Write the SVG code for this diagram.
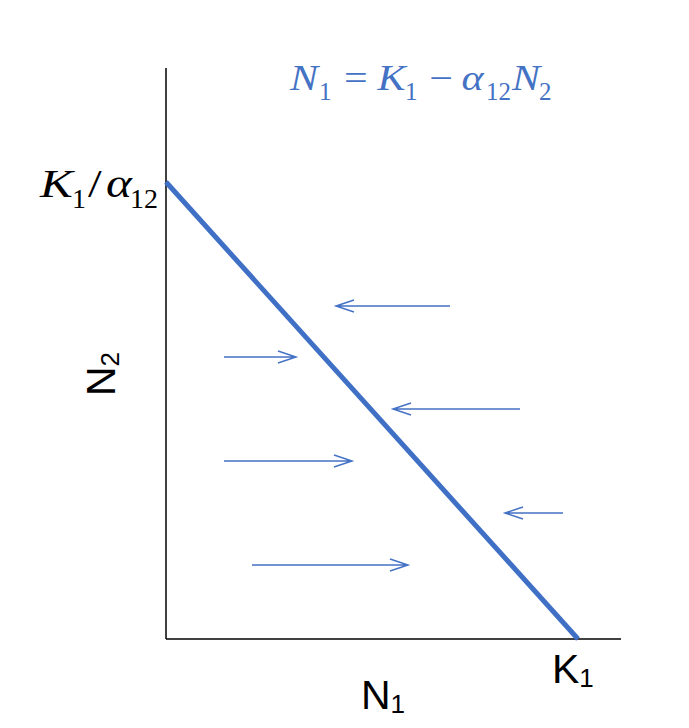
<svg xmlns="http://www.w3.org/2000/svg" width="689" height="728" viewBox="0 0 689 728">
<style>
.axis{stroke:#000;stroke-width:1.5;fill:none}
.iso{stroke:#3F70C6;stroke-width:5;fill:none}
.arr{stroke:#4472C4;stroke-width:1.5;fill:none}
.sans{font-family:"Liberation Sans",Arial,sans-serif;fill:#000;font-size:41px}
.sub{font-size:26px}
.math{font-family:"Liberation Serif","Times New Roman",serif;font-style:italic}
.up{font-style:normal}
</style>
<rect width="689" height="728" fill="#fff"/>
<g id="axes">
<line class="axis" x1="166" y1="68" x2="166" y2="639"/>
<line class="axis" x1="166" y1="639" x2="621" y2="639"/>
</g>
<g id="isocline">
<line class="iso" x1="166" y1="182" x2="578" y2="639"/>
</g>
<g id="connectors">
<path class="arr" d="M450 306H336M354 300L336 306L354 312"/>
<path class="arr" d="M224 357H296M278 351L296 357L278 363"/>
<path class="arr" d="M520 409H393M411 403L393 409L411 415"/>
<path class="arr" d="M224 461H352M334 455L352 461L334 467"/>
<path class="arr" d="M563 513H505M523 507L505 513L523 519"/>
<path class="arr" d="M252 565H408M390 559L408 565L390 571"/>
</g>
<g id="equation" fill="#4472C4">
<text class="math" font-size="35" transform="translate(290 0) scale(1.2 1)"><tspan x="0" y="90">N</tspan><tspan class="up" x="45" y="90">=</tspan><tspan x="73" y="90">K</tspan><tspan class="up" x="116" y="90">−</tspan><tspan x="143" y="90">α</tspan><tspan x="185" y="90">N</tspan></text>
<text class="math up" font-size="25"><tspan x="319" y="100">1</tspan><tspan x="405" y="100">1</tspan><tspan x="486" y="100">12</tspan><tspan x="539" y="100">2</tspan></text>
</g>
<g id="label-k1-alpha" fill="#000">
<text class="math" font-size="41" transform="translate(40 0) scale(1.2 1)"><tspan x="0" y="197">K</tspan><tspan class="up" x="40" y="197">/</tspan><tspan x="55" y="197">α</tspan></text>
<text class="math up" font-size="28"><tspan x="72" y="208">1</tspan><tspan x="130" y="208">12</tspan></text>
</g>
<g id="label-n2">
<text class="sans" transform="translate(115 396) rotate(-90)">N<tspan class="sub" dy="4">2</tspan></text>
</g>
<g id="label-n1">
<text class="sans" x="361" y="709">N<tspan class="sub" dy="4">1</tspan></text>
</g>
<g id="label-k1">
<text class="sans" x="552" y="683">K<tspan class="sub" dy="4">1</tspan></text>
</g>
</svg>
